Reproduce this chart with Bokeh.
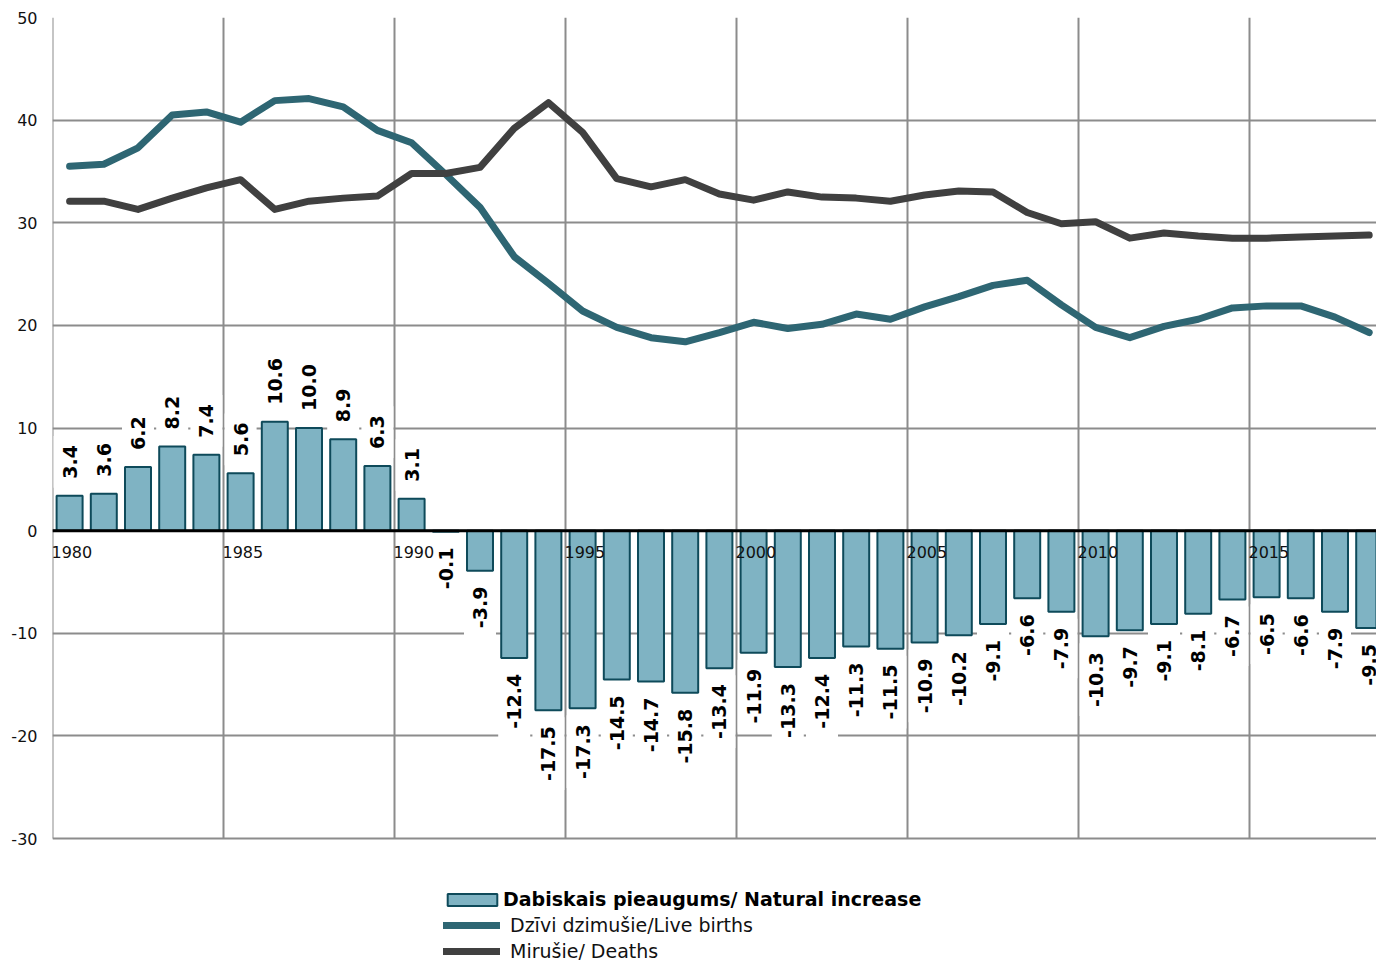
import numpy as np
from bokeh.plotting import figure
from bokeh.models import (ColumnDataSource, Range1d, FixedTicker, Legend, LegendItem, Span,
                          PrintfTickFormatter)
from bokeh.core.properties import value
from bokeh.embed import file_html
from bokeh.resources import INLINE

years = list(range(1980, 2019))
natural_increase = [3.4, 3.6, 6.2, 8.2, 7.4, 5.6, 10.6, 10.0, 8.9, 6.3, 3.1, -0.1, -3.9, -12.4,
                    -17.5, -17.3, -14.5, -14.7, -15.8, -13.4, -11.9, -13.3, -12.4, -11.3, -11.5,
                    -10.9, -10.2, -9.1, -6.6, -7.9, -10.3, -9.7, -9.1, -8.1, -6.7, -6.5, -6.6,
                    -7.9, -9.5]
live_births = [35.5, 35.7, 37.3, 40.5, 40.8, 39.8, 41.9, 42.1, 41.3, 39.0, 37.8, 34.7, 31.5, 26.7,
               24.1, 21.4, 19.8, 18.8, 18.4, 19.3, 20.3, 19.7, 20.1, 21.1, 20.6, 21.8, 22.8, 23.9,
               24.4, 22.0, 19.8, 18.8, 19.9, 20.6, 21.7, 21.9, 21.9, 20.8, 19.3]
deaths = [32.1, 32.1, 31.3, 32.4, 33.4, 34.2, 31.3, 32.1, 32.4, 32.6, 34.8, 34.8, 35.4, 39.2,
          41.7, 38.8, 34.3, 33.5, 34.2, 32.8, 32.2, 33.0, 32.5, 32.4, 32.1, 32.7, 33.1, 33.0,
          31.0, 29.9, 30.1, 28.5, 29.0, 28.7, 28.5, 28.5, 28.6, 28.7, 28.8]
year_labels = [1980, 1985, 1990, 1995, 2000, 2005, 2010, 2015]
y_ticks = [-30, -20, -10, 0, 10, 20, 30, 40, 50]
Y_MIN, Y_MAX = -30, 50

FONT = "DejaVu Sans"
BAR_FILL = "#7fb3c3"
BAR_LINE = "#0e4a5a"
BIRTH_COL = "#2e6673"
DEATH_COL = "#404040"
GRID_COL = "#8c8c8c"

# frame: 80 units of data take 821 px; the space below holds the legend
TOP_BORDER = 17
LEFT_BORDER = 52
FIG_W, FIG_H = 1376, 960
frame_h = FIG_H - TOP_BORDER
px_per_unit = 821 / (Y_MAX - Y_MIN)
y_start = Y_MAX - frame_h / px_per_unit
x_end = 1979.5 + (FIG_W - LEFT_BORDER) / 34.2

p = figure(width=FIG_W, height=FIG_H, output_backend="svg", toolbar_location=None,
           x_range=Range1d(1979.5, x_end), y_range=Range1d(y_start, Y_MAX),
           min_border_left=LEFT_BORDER, min_border_right=0, min_border_top=TOP_BORDER,
           min_border_bottom=0)
p.outline_line_color = None
p.xaxis.visible = False
p.xgrid.visible = False

p.yaxis.ticker = FixedTicker(ticks=y_ticks)
p.yaxis.formatter = PrintfTickFormatter(format="%d")
p.yaxis.axis_line_color = None
p.yaxis.major_tick_line_color = None
p.yaxis.minor_tick_line_color = None
p.yaxis.major_label_standoff = 9
p.yaxis.major_label_text_font = FONT
p.yaxis.major_label_text_font_size = "16px"
p.yaxis.major_label_text_color = "#111111"

p.ygrid.ticker = FixedTicker(ticks=y_ticks)
p.ygrid.grid_line_color = GRID_COL
p.ygrid.grid_line_width = 2

# vertical grid lines at category boundaries every 5 years, limited to the value range
gx = [y - 0.5 for y in year_labels]
p.segment(x0=gx, y0=[Y_MIN] * len(gx), x1=gx, y1=[Y_MAX] * len(gx),
          line_color=GRID_COL, line_width=2)

src = ColumnDataSource(dict(x=years, ni=natural_increase, b=live_births, d=deaths))
bars = p.vbar(x="x", top="ni", bottom=0, width=0.76, source=src,
              fill_color=BAR_FILL, line_color=BAR_LINE, line_width=2)

pos = ColumnDataSource(dict(x=[x for x, v in zip(years, natural_increase) if v >= 0],
                            y=[v for v in natural_increase if v >= 0],
                            t=[f"{v:.1f}" for v in natural_increase if v >= 0]))
neg = ColumnDataSource(dict(x=[x for x, v in zip(years, natural_increase) if v < 0],
                            y=[v for v in natural_increase if v < 0],
                            t=[f"{v:.1f}" for v in natural_increase if v < 0]))
common = dict(text="t", angle=np.pi / 2, text_font=value(FONT), text_font_style="bold",
              text_font_size="19px", text_color="black", text_baseline="middle",
              background_fill_color="white", padding=9)
p.text(x="x", y="y", source=pos, text_align="left", y_offset=-8, **common)
p.text(x="x", y="y", source=neg, text_align="right", y_offset=7, **common)

ysrc = ColumnDataSource(dict(x=[y - 0.5 for y in year_labels], y=[0] * len(year_labels),
                             t=[str(y) for y in year_labels]))
p.text(x="x", y="y", text="t", source=ysrc, text_align="left", text_baseline="top",
       x_offset=-1, y_offset=15, text_font=value(FONT), text_font_size="16px",
       text_color="#111111")

p.add_layout(Span(location=0, dimension="width", line_color="black", line_width=3))

lb = p.line(x="x", y="b", source=src, line_color=BIRTH_COL, line_width=7,
            line_join="round", line_cap="round")
ld = p.line(x="x", y="d", source=src, line_color=DEATH_COL, line_width=7,
            line_join="round", line_cap="round")

leg1 = Legend(items=[LegendItem(label="Dabiskais pieaugums/ Natural increase", renderers=[bars])],
              location=(389, 50), glyph_width=62, glyph_height=15, label_standoff=0,
              label_height=20, spacing=4, padding=0, margin=0, border_line_color=None,
              background_fill_alpha=0, label_text_font=FONT, label_text_font_size="19px",
              label_text_font_style="bold", label_text_color="black")
leg2 = Legend(items=[LegendItem(label="Dzīvi dzimušie/Live births", renderers=[lb]),
                     LegendItem(label="Mirušie/ Deaths", renderers=[ld])],
              location=(391, -2), glyph_width=57, glyph_height=20, label_standoff=10,
              label_height=20, spacing=4, padding=0, margin=0, border_line_color=None,
              background_fill_alpha=0, label_text_font=FONT, label_text_font_size="19px",
              label_text_color="#111111")
p.add_layout(leg1)
p.add_layout(leg2)

open("out.html", "w").write(file_html(p, INLINE))
